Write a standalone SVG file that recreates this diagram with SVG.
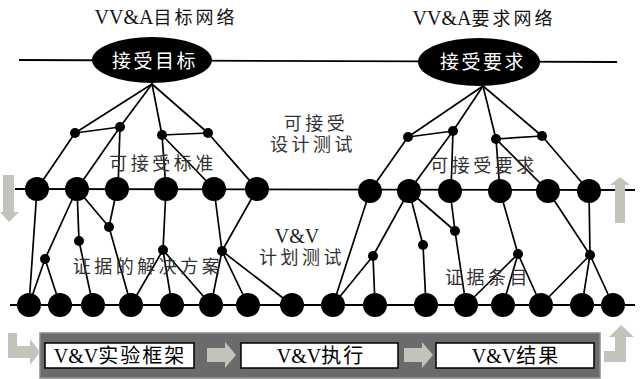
<svg xmlns="http://www.w3.org/2000/svg" width="644" height="379" viewBox="0 0 644 379">
  <style>
    .edge { stroke: #000; stroke-width: 1.7; fill: none; stroke-linecap: round; }
    .axis { stroke: #000; stroke-width: 1.8; fill: none; }
    .big { fill: #000; }
    .sm { fill: #000; }
    .goal { fill: #000; }
    .goal-t { font-family: "Liberation Serif", "Noto Sans CJK SC", serif; font-size: 19px; fill: #fff; text-anchor: middle; letter-spacing: 2.5px; }
    .title { font-family: "Liberation Serif", "Noto Sans CJK SC", serif; font-size: 20px; fill: #111; text-anchor: middle; }
    .cjk { font-size: 18px; letter-spacing: 3px; }
    .lbl { font-family: "Liberation Serif", "Noto Sans CJK SC", serif; font-size: 18px; fill: #333; text-anchor: middle; letter-spacing: 3.5px; }
    .vv { font-family: "Liberation Serif", "Noto Sans CJK SC", serif; font-size: 20px; fill: #222; text-anchor: middle; }
    .flow { fill: #c3c3bb; }
    .band { fill: #6b6b6b; stroke: #8c8c8c; stroke-width: 1.5; }
    .box { fill: #fff; stroke: #000; stroke-width: 1.5; }
    .box-t { font-family: "Liberation Serif", "Noto Sans CJK SC", serif; font-size: 20px; fill: #000; text-anchor: middle; }
    .box-c { letter-spacing: 2px; }
  </style>

  <!-- horizontal layers -->
  <g id="layers">
    <line class="axis" x1="19" y1="60" x2="617" y2="62"/>
    <line class="axis" x1="15" y1="189" x2="635" y2="190"/>
    <line class="axis" x1="10" y1="305" x2="635" y2="305"/>
  </g>

  <!-- connectors -->
  <g id="connectors">
    <!-- goal tree -->
    <line class="edge" x1="152" y1="84" x2="75" y2="133"/>
    <line class="edge" x1="152" y1="84" x2="120" y2="127"/>
    <line class="edge" x1="152" y1="84" x2="162" y2="135"/>
    <line class="edge" x1="152" y1="84" x2="208" y2="133"/>
    <line class="edge" x1="75" y1="133" x2="120" y2="127"/>
    <line class="edge" x1="162" y1="135" x2="208" y2="133"/>
    <line class="edge" x1="75" y1="133" x2="37" y2="189"/>
    <line class="edge" x1="120" y1="127" x2="77" y2="189"/>
    <line class="edge" x1="120" y1="127" x2="118" y2="189"/>
    <line class="edge" x1="162" y1="135" x2="166" y2="189"/>
    <line class="edge" x1="162" y1="135" x2="214" y2="189"/>
    <line class="edge" x1="208" y1="133" x2="257" y2="189"/>
    <!-- requirement tree -->
    <line class="edge" x1="483" y1="86" x2="408" y2="137"/>
    <line class="edge" x1="483" y1="86" x2="453" y2="131"/>
    <line class="edge" x1="483" y1="86" x2="496" y2="139"/>
    <line class="edge" x1="483" y1="86" x2="542" y2="136"/>
    <line class="edge" x1="408" y1="137" x2="453" y2="131"/>
    <line class="edge" x1="496" y1="139" x2="542" y2="136"/>
    <line class="edge" x1="408" y1="137" x2="370" y2="191"/>
    <line class="edge" x1="453" y1="131" x2="409" y2="191"/>
    <line class="edge" x1="453" y1="131" x2="451" y2="191"/>
    <line class="edge" x1="496" y1="139" x2="500" y2="191"/>
    <line class="edge" x1="496" y1="139" x2="548" y2="191"/>
    <line class="edge" x1="542" y1="136" x2="589" y2="191"/>
    <!-- evidence solutions -->
    <line class="edge" x1="37" y1="189" x2="29" y2="305"/>
    <line class="edge" x1="77" y1="189" x2="45" y2="259"/>
    <line class="edge" x1="45" y1="259" x2="29" y2="305"/>
    <line class="edge" x1="45" y1="259" x2="60" y2="305"/>
    <line class="edge" x1="77" y1="189" x2="79" y2="241"/>
    <line class="edge" x1="79" y1="241" x2="93" y2="305"/>
    <line class="edge" x1="77" y1="189" x2="109" y2="227"/>
    <line class="edge" x1="117" y1="189" x2="109" y2="227"/>
    <line class="edge" x1="109" y1="227" x2="131" y2="305"/>
    <line class="edge" x1="166" y1="189" x2="163" y2="250"/>
    <line class="edge" x1="163" y1="250" x2="131" y2="305"/>
    <line class="edge" x1="163" y1="250" x2="172" y2="305"/>
    <line class="edge" x1="163" y1="250" x2="211" y2="305"/>
    <line class="edge" x1="214" y1="189" x2="222" y2="251"/>
    <line class="edge" x1="257" y1="189" x2="222" y2="251"/>
    <line class="edge" x1="222" y1="251" x2="211" y2="305"/>
    <line class="edge" x1="222" y1="251" x2="248" y2="305"/>
    <line class="edge" x1="222" y1="251" x2="292" y2="305"/>
    <!-- evidence items -->
    <line class="edge" x1="370" y1="191" x2="333" y2="305"/>
    <line class="edge" x1="409" y1="191" x2="373" y2="256"/>
    <line class="edge" x1="373" y1="256" x2="333" y2="305"/>
    <line class="edge" x1="373" y1="256" x2="375" y2="305"/>
    <line class="edge" x1="409" y1="191" x2="423" y2="245"/>
    <line class="edge" x1="423" y1="245" x2="426" y2="305"/>
    <line class="edge" x1="409" y1="191" x2="455" y2="231"/>
    <line class="edge" x1="450" y1="191" x2="455" y2="231"/>
    <line class="edge" x1="455" y1="231" x2="466" y2="305"/>
    <line class="edge" x1="500" y1="191" x2="518" y2="254"/>
    <line class="edge" x1="518" y1="254" x2="466" y2="305"/>
    <line class="edge" x1="518" y1="254" x2="503" y2="305"/>
    <line class="edge" x1="518" y1="254" x2="541" y2="305"/>
    <line class="edge" x1="548" y1="191" x2="590" y2="255"/>
    <line class="edge" x1="589" y1="191" x2="590" y2="255"/>
    <line class="edge" x1="590" y1="255" x2="541" y2="305"/>
    <line class="edge" x1="590" y1="255" x2="582" y2="305"/>
    <line class="edge" x1="590" y1="255" x2="613" y2="305"/>
  </g>

  <!-- goal nodes -->
  <g id="goal-accept">
    <ellipse class="goal" cx="152" cy="60" rx="60" ry="23"/>
    <text class="goal-t" x="155" y="68">接受目标</text>
  </g>
  <g id="goal-require">
    <ellipse class="goal" cx="479" cy="62" rx="61" ry="24"/>
    <text class="goal-t" x="483" y="69">接受要求</text>
  </g>

  <!-- criteria branch points -->
  <g id="n1"><circle class="sm" cx="75" cy="133" r="5"/></g>
  <g id="n2"><circle class="sm" cx="120" cy="127" r="5"/></g>
  <g id="n3"><circle class="sm" cx="162" cy="135" r="5"/></g>
  <g id="n4"><circle class="sm" cx="208" cy="133" r="5"/></g>
  <g id="m1"><circle class="sm" cx="408" cy="137" r="5"/></g>
  <g id="m2"><circle class="sm" cx="453" cy="131" r="5"/></g>
  <g id="m3"><circle class="sm" cx="496" cy="139" r="5"/></g>
  <g id="m4"><circle class="sm" cx="542" cy="136" r="5"/></g>

  <!-- design-test layer -->
  <g id="b1"><circle class="big" cx="37" cy="189" r="12"/></g>
  <g id="b2"><circle class="big" cx="77" cy="189" r="12"/></g>
  <g id="b3"><circle class="big" cx="117" cy="189" r="12"/></g>
  <g id="b4"><circle class="big" cx="166" cy="189" r="12"/></g>
  <g id="b5"><circle class="big" cx="214" cy="189" r="12"/></g>
  <g id="b6"><circle class="big" cx="257" cy="189" r="12"/></g>
  <g id="r1"><circle class="big" cx="370" cy="191" r="12"/></g>
  <g id="r2"><circle class="big" cx="409" cy="191" r="12"/></g>
  <g id="r3"><circle class="big" cx="450" cy="191" r="12"/></g>
  <g id="r4"><circle class="big" cx="500" cy="191" r="12"/></g>
  <g id="r5"><circle class="big" cx="548" cy="191" r="12"/></g>
  <g id="r6"><circle class="big" cx="589" cy="191" r="12"/></g>

  <!-- plan-test branch points -->
  <g id="s1"><circle class="sm" cx="45" cy="259" r="5"/></g>
  <g id="s2"><circle class="sm" cx="79" cy="241" r="5"/></g>
  <g id="s3"><circle class="sm" cx="109" cy="227" r="5"/></g>
  <g id="s4"><circle class="sm" cx="163" cy="250" r="5"/></g>
  <g id="s5"><circle class="sm" cx="222" cy="251" r="5"/></g>
  <g id="t1"><circle class="sm" cx="373" cy="256" r="5"/></g>
  <g id="t2"><circle class="sm" cx="423" cy="245" r="5"/></g>
  <g id="t3"><circle class="sm" cx="455" cy="231" r="5"/></g>
  <g id="t4"><circle class="sm" cx="518" cy="254" r="5"/></g>
  <g id="t5"><circle class="sm" cx="590" cy="255" r="5"/></g>

  <!-- plan-test layer -->
  <g id="l1"><circle class="big" cx="29" cy="305" r="12"/></g>
  <g id="l2"><circle class="big" cx="60" cy="305" r="12"/></g>
  <g id="l3"><circle class="big" cx="93" cy="305" r="12"/></g>
  <g id="l4"><circle class="big" cx="131" cy="305" r="12"/></g>
  <g id="l5"><circle class="big" cx="172" cy="305" r="12"/></g>
  <g id="l6"><circle class="big" cx="211" cy="305" r="12"/></g>
  <g id="l7"><circle class="big" cx="248" cy="305" r="12"/></g>
  <g id="l8"><circle class="big" cx="292" cy="305" r="12"/></g>
  <g id="l9"><circle class="big" cx="333" cy="305" r="12"/></g>
  <g id="l10"><circle class="big" cx="375" cy="305" r="12"/></g>
  <g id="l11"><circle class="big" cx="426" cy="305" r="12"/></g>
  <g id="l12"><circle class="big" cx="466" cy="305" r="12"/></g>
  <g id="l13"><circle class="big" cx="503" cy="305" r="12"/></g>
  <g id="l14"><circle class="big" cx="541" cy="305" r="12"/></g>
  <g id="l15"><circle class="big" cx="582" cy="305" r="12"/></g>
  <g id="l16"><circle class="big" cx="613" cy="305" r="12"/></g>

  <!-- titles and region labels -->
  <g id="labels">
    <text class="title" x="166" y="24">VV&amp;A<tspan class="cjk">目标网络</tspan></text>
    <text class="title" x="484" y="25">VV&amp;A<tspan class="cjk">要求网络</tspan></text>
    <text class="lbl" x="316" y="130">可接受</text>
    <text class="lbl" x="313" y="151">设计测试</text>
    <text class="lbl" x="163" y="170">可接受标准</text>
    <text class="lbl" x="484" y="172">可接受要求</text>
    <text class="vv" x="297" y="243">V&amp;V</text>
    <text class="lbl" x="302" y="264">计划测试</text>
    <text class="lbl" x="148" y="273">证据的解决方案</text>
    <text class="lbl" x="488" y="284">证据条目</text>
  </g>

  <!-- direction arrows -->
  <g id="arrow-down">
    <polygon class="flow" points="3,175 14,175 14,212 19,212 9,222 0,212 3,212"/>
  </g>
  <g id="arrow-up">
    <polygon class="flow" points="620,177 630,185 625,185 625,223 615,223 615,185 610,185"/>
  </g>

  <!-- execution band -->
  <g id="band">
    <rect class="band" x="40" y="333" width="560" height="45"/>
  </g>
  <g id="arrow-in">
    <polygon class="flow" points="8,333 17,333 17,346 30,346 30,339 40,352 30,365 30,358 8,358"/>
  </g>
  <g id="arrow-out">
    <polygon class="flow" points="621,325 634,337 626,337 626,362 604,362 604,351 615,351 615,337 609,337"/>
  </g>
  <g id="box-frame">
    <rect class="box" x="45" y="343" width="149" height="25"/>
    <text class="box-t" x="120" y="363">V&amp;V<tspan class="box-c">实验框架</tspan></text>
  </g>
  <g id="arrow-1">
    <polygon class="flow" points="207,348 225,348 225,342 236,355 225,368 225,362 207,362"/>
  </g>
  <g id="box-exec">
    <rect class="box" x="241" y="343" width="157" height="25"/>
    <text class="box-t" x="321" y="363">V&amp;V<tspan class="box-c">执行</tspan></text>
  </g>
  <g id="arrow-2">
    <polygon class="flow" points="404,348 422,348 422,342 433,355 422,368 422,362 404,362"/>
  </g>
  <g id="box-result">
    <rect class="box" x="436" y="343" width="158" height="25"/>
    <text class="box-t" x="516" y="363">V&amp;V<tspan class="box-c">结果</tspan></text>
  </g>
</svg>
